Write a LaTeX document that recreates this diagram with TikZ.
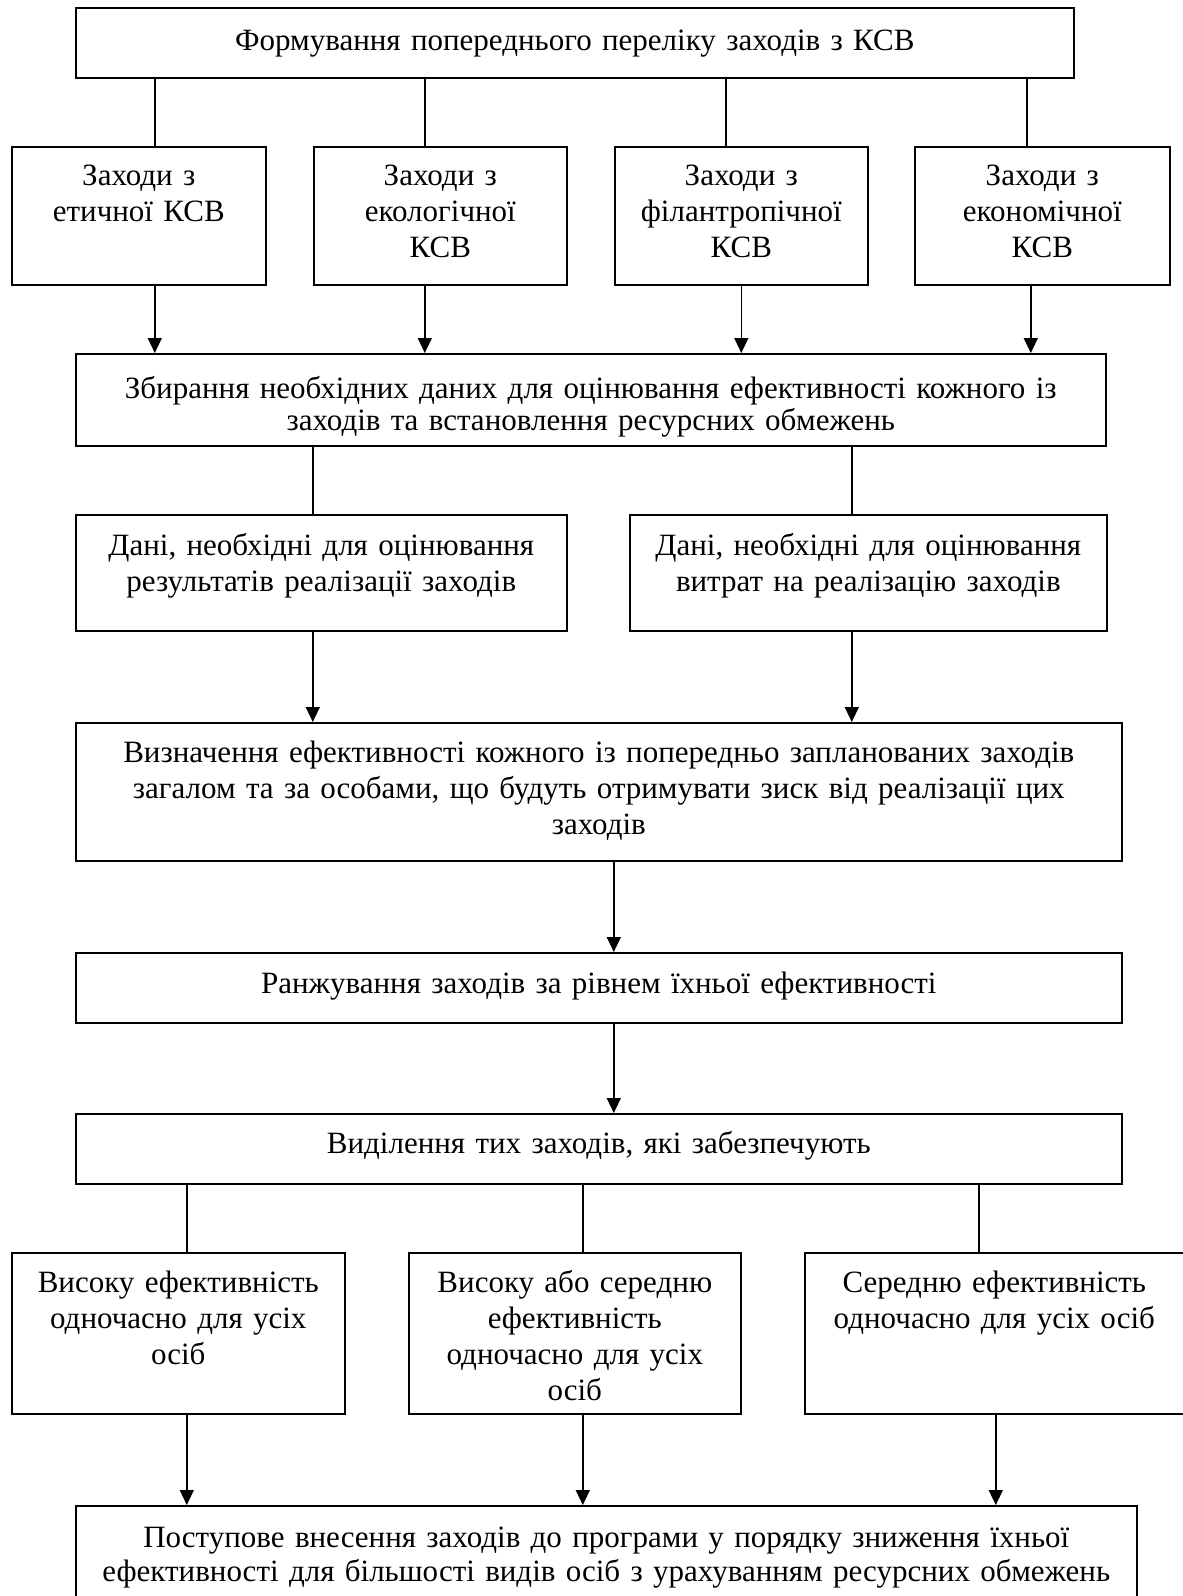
\documentclass[tikz,border=0pt]{standalone}
\usepackage{fontspec}
\setmainfont{Liberation Serif}
\usetikzlibrary{arrows.meta}
\tikzset{
  box/.style={draw, line width=1.6pt, inner sep=0pt, anchor=north west},
  txt/.style={anchor=base, align=center, inner sep=0pt, font=\fontsize{31}{36}\selectfont},
  arr/.style={line width=1.5pt, -{Triangle[length=15pt,width=14pt]}},
  ln/.style={line width=1.5pt}
}
\begin{document}
\begin{tikzpicture}[x=1pt,y=-1pt]
\useasboundingbox (0,0) rectangle (1183,1596);
% boxes
\node[box, minimum width=998pt, minimum height=70pt] (T) at (75,7) {};
\node[box, minimum width=254pt, minimum height=138pt] (b1) at (11,146) {};
\node[box, minimum width=253pt, minimum height=138pt] (b2) at (313,146) {};
\node[box, minimum width=253pt, minimum height=138pt] (b3) at (614,146) {};
\node[box, minimum width=255pt, minimum height=138pt] (b4) at (914,146) {};
\node[box, minimum width=1030pt, minimum height=92pt] (S) at (75,353) {};
\node[box, minimum width=491pt, minimum height=116pt] (d1) at (75,514) {};
\node[box, minimum width=477pt, minimum height=116pt] (d2) at (629,514) {};
\node[box, minimum width=1046pt, minimum height=138pt] (V) at (75,722) {};
\node[box, minimum width=1046pt, minimum height=70pt] (Rk) at (75,952) {};
\node[box, minimum width=1046pt, minimum height=70pt] (Vd) at (75,1113) {};
\node[box, minimum width=333pt, minimum height=161pt] (e1) at (11,1252) {};
\node[box, minimum width=332pt, minimum height=161pt] (e2) at (408,1252) {};
\node[box, minimum width=379pt, minimum height=161pt] (e3) at (804,1252) {};
\node[box, minimum width=1061pt, minimum height=110pt] (P) at (75,1505) {};
% texts
\node[txt, text width=990pt] (tT) at ([yshift=-43pt]T.north) {Формування попереднього переліку заходів з КСВ};
\node[txt, text width=250pt] (tb1) at ([yshift=-39pt]b1.north) {Заходи з\\етичної КСВ};
\node[txt, text width=250pt] (tb2) at ([yshift=-39pt]b2.north) {Заходи з\\екологічної\\КСВ};
\node[txt, text width=250pt] (tb3) at ([yshift=-39pt]b3.north) {Заходи з\\філантропічної\\КСВ};
\node[txt, text width=250pt] (tb4) at ([yshift=-39pt]b4.north) {Заходи з\\економічної\\КСВ};
\node[txt, text width=1020pt, font=\fontsize{31}{32}\selectfont] (tS) at ([yshift=-45pt]S.north) {Збирання необхідних даних для оцінювання ефективності кожного із\\заходів та встановлення ресурсних обмежень};
\node[txt, text width=485pt] (td1) at ([yshift=-41pt]d1.north) {Дані, необхідні для оцінювання\\результатів реалізації заходів};
\node[txt, text width=470pt] (td2) at ([yshift=-41pt]d2.north) {Дані, необхідні для оцінювання\\витрат на реалізацію заходів};
\node[txt, text width=1040pt] (tV) at ([yshift=-40pt]V.north) {Визначення ефективності кожного із попередньо запланованих заходів\\загалом та за особами, що будуть отримувати зиск від реалізації цих\\заходів};
\node[txt, text width=1040pt] (tRk) at ([yshift=-41pt]Rk.north) {Ранжування заходів за рівнем їхньої ефективності};
\node[txt, text width=1040pt] (tVd) at ([yshift=-40pt]Vd.north) {Виділення тих заходів, які забезпечують};
\node[txt, text width=330pt] (te1) at ([yshift=-40pt]e1.north) {Високу ефективність\\одночасно для усіх\\осіб};
\node[txt, text width=330pt] (te2) at ([yshift=-40pt]e2.north) {Високу або середню\\ефективність\\одночасно для усіх\\осіб};
\node[txt, text width=375pt] (te3) at ([yshift=-40pt]e3.north) {Середню ефективність\\одночасно для усіх осіб};
\node[txt, text width=1055pt, font=\fontsize{31}{34}\selectfont] (tP) at ([yshift=-42pt]P.north) {Поступове внесення заходів до програми у порядку зниження їхньої\\ефективності для більшості видів осіб з урахуванням ресурсних обмежень};
% connectors
\draw[ln] ([xshift=16pt]b1.north |- T.south) -- ([xshift=16pt]b1.north);
\draw[ln] ([xshift=-15.5pt]b2.north |- T.south) -- ([xshift=-15.5pt]b2.north);
\draw[ln] ([xshift=-15.5pt]b3.north |- T.south) -- ([xshift=-15.5pt]b3.north);
\draw[ln] ([xshift=-15.5pt]b4.north |- T.south) -- ([xshift=-15.5pt]b4.north);
\draw[arr] ([xshift=16pt]b1.south) -- ([xshift=16pt]b1.south |- S.north);
\draw[arr] ([xshift=-15.5pt]b2.south) -- ([xshift=-15.5pt]b2.south |- S.north);
\draw[arr] (b3.south) -- (b3.south |- S.north);
\draw[arr] ([xshift=-11.5pt]b4.south) -- ([xshift=-11.5pt]b4.south |- S.north);
\draw[ln] ([xshift=-8.5pt]d1.north |- S.south) -- ([xshift=-8.5pt]d1.north);
\draw[ln] ([xshift=-16.5pt]d2.north |- S.south) -- ([xshift=-16.5pt]d2.north);
\draw[arr] ([xshift=-8.5pt]d1.south) -- ([xshift=-8.5pt]d1.south |- V.north);
\draw[arr] ([xshift=-16.5pt]d2.south) -- ([xshift=-16.5pt]d2.south |- V.north);
\draw[arr] ([xshift=15pt]V.south) -- ([xshift=15pt]Rk.north);
\draw[arr] ([xshift=15pt]Rk.south) -- ([xshift=15pt]Vd.north);
\draw[ln] ([xshift=8.5pt]e1.north |- Vd.south) -- ([xshift=8.5pt]e1.north);
\draw[ln] ([xshift=8pt]e2.north |- Vd.south) -- ([xshift=8pt]e2.north);
\draw[ln] ([xshift=-15.5pt]e3.north |- Vd.south) -- ([xshift=-15.5pt]e3.north);
\draw[arr] ([xshift=8.5pt]e1.south) -- ([xshift=8.5pt]e1.south |- P.north);
\draw[arr] ([xshift=8pt]e2.south) -- ([xshift=8pt]e2.south |- P.north);
\draw[arr] ([xshift=1.5pt]e3.south) -- ([xshift=1.5pt]e3.south |- P.north);
\end{tikzpicture}
\end{document}
